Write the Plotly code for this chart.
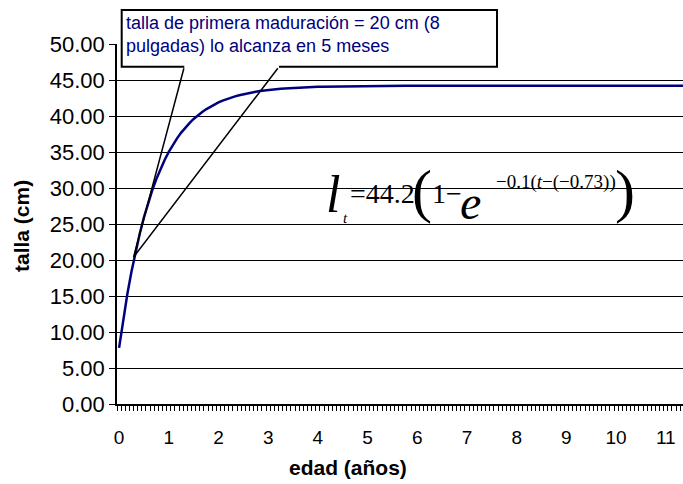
import plotly.graph_objects as go

# Monthly length-at-age readings (cm); ticks labelled in years
meses = list(range(138))
talla = [
    7.80, 11.75, 15.27, 18.40, 21.20, 23.69, 25.91, 27.90, 29.67, 31.24,
    32.65, 33.90, 35.01, 36.01, 36.90, 37.69, 38.40, 39.02, 39.59, 40.09,
    40.53, 40.93, 41.28, 41.60, 41.88, 42.13, 42.36, 42.56, 42.73, 42.89,
    43.03, 43.16, 43.27, 43.37, 43.46, 43.54, 43.62, 43.68, 43.74, 43.78,
    43.83, 43.87, 43.90, 43.94, 43.97, 43.99, 44.01, 44.03, 44.05, 44.07,
    44.08, 44.09, 44.10, 44.11, 44.12, 44.13, 44.14, 44.14, 44.15, 44.15,
    44.16, 44.16, 44.17, 44.17, 44.17, 44.18, 44.18, 44.18, 44.18, 44.19,
    44.19, 44.19, 44.19, 44.19, 44.19, 44.19, 44.20, 44.20, 44.20, 44.20,
    44.20, 44.20, 44.20, 44.20, 44.20, 44.20, 44.20, 44.20, 44.20, 44.20,
    44.20, 44.20, 44.20, 44.20, 44.20, 44.20, 44.20, 44.20, 44.20, 44.20,
    44.20, 44.20, 44.20, 44.20, 44.20, 44.20, 44.20, 44.20, 44.20, 44.20,
    44.20, 44.20, 44.20, 44.20, 44.20, 44.20, 44.20, 44.20, 44.20, 44.20,
    44.20, 44.20, 44.20, 44.20, 44.20, 44.20, 44.20, 44.20, 44.20, 44.20,
    44.20, 44.20, 44.20, 44.20, 44.20, 44.20, 44.20, 44.20,
]
tick_meses = [0, 12, 24, 36, 48, 60, 72, 84, 96, 108, 120, 132]
tick_anios = ["0", "1", "2", "3", "4", "5", "6", "7", "8", "9", "10", "11"]
y_ticks = [0, 5, 10, 15, 20, 25, 30, 35, 40, 45, 50]

# point marked by the callout (month, cm)
punto_madurez = (3.5, 20.4)

W, H = 683, 484
ML, MR, MT, MB = 117, 0, 44, 80
PW, PH = W - ML - MR, H - MT - MB
PX_PER_MES = 4.1417


def px(x):
    return (x - ML) / PW


def py(y):
    return (H - MB - y) / PH


fig = go.Figure()
fig.add_trace(go.Scatter(
    x=meses, y=talla, mode="lines",
    line=dict(color="#000080", width=2.5),
    hoverinfo="skip", showlegend=False,
))

sans = "Liberation Sans, Arial, sans-serif"
serif = "Liberation Serif, Times New Roman, serif"

fig.update_layout(
    width=W, height=H,
    margin=dict(l=ML, r=MR, t=MT, b=MB, pad=0),
    paper_bgcolor="white", plot_bgcolor="white",
    font=dict(family=sans, size=19, color="black"),
    xaxis=dict(
        range=[-0.5, -0.5 + PW / PX_PER_MES],
        tickvals=tick_meses, ticktext=tick_anios,
        ticks="", showgrid=False, zeroline=False,
        showline=True, linecolor="black", linewidth=1.5,
        ticklabelstandoff=15,
        minor=dict(tick0=-0.5, dtick=1, ticks="outside", ticklen=5,
                   tickcolor="black", tickwidth=1, showgrid=False),
    ),
    yaxis=dict(
        range=[0, 50], tickvals=y_ticks, tickformat=".2f",
        tickfont=dict(size=22),
        ticks="outside", ticklen=6, tickcolor="black", tickwidth=1,
        showgrid=True, gridcolor="black", gridwidth=1, zeroline=False,
        showline=True, linecolor="black", linewidth=1.5,
    ),
)

# axis titles
fig.add_annotation(x=px(348), y=py(467), xref="paper", yref="paper",
                   xanchor="center", yanchor="middle", showarrow=False,
                   text="<b>edad (años)</b>", font=dict(size=21))
fig.add_annotation(x=px(21), y=py(226), xref="paper", yref="paper",
                   xanchor="center", yanchor="middle", showarrow=False,
                   textangle=-90, text="<b>talla (cm)</b>", font=dict(size=21))

# callout outline with its two leader lines
box = [(184.3, 66.7), (121.7, 66.7), (121.7, 10), (497, 10), (497, 66.7), (279, 66.7)]
path = "M " + " L ".join(f"{px(a):.4f},{py(b):.4f}" for a, b in box)
fig.add_shape(type="path", path=path, xref="paper", yref="paper",
              line=dict(color="black", width=2), fillcolor="rgba(0,0,0,0)")

tip_px = (ML + (punto_madurez[0] + 0.5) * PX_PER_MES, H - MB - punto_madurez[1] * PH / 50)
for tail in [(184.3, 66.7), (279, 66.7)]:
    fig.add_annotation(
        x=punto_madurez[0], y=punto_madurez[1], xref="x", yref="y",
        ax=tail[0] - tip_px[0], ay=tail[1] - tip_px[1],
        text="", showarrow=True, arrowhead=0, arrowwidth=1.5,
        arrowcolor="black", standoff=0, startstandoff=0,
    )

fig.add_annotation(
    x=px(124), y=py(11), xref="paper", yref="paper",
    xanchor="left", yanchor="top", align="left", showarrow=False,
    text="talla de primera maduración = 20 cm (8<br>pulgadas) lo alcanza en 5 meses",
    font=dict(family=sans, size=18, color="#000080"),
)

# growth equation
def eq(text, x, y, size, italic=False):
    fig.add_annotation(
        x=px(x), y=py(y), xref="paper", yref="paper",
        xanchor="left", yanchor="middle", showarrow=False, borderpad=0,
        text=f"<i>{text}</i>" if italic else text,
        font=dict(family=serif, size=size, color="black"),
    )


eq("l", 325, 195, 52, italic=True)
eq("t", 342, 218, 15, italic=True)
eq("=44.2", 349, 193, 28)
eq("(", 411, 191, 60)
eq("1−", 431, 193, 28)
eq("e", 459, 202, 48, italic=True)
eq("−0.1(<i>t</i>−(−0.73))", 495, 182, 19)
eq(")", 614, 191, 60)

fig.write_html("out.html")
